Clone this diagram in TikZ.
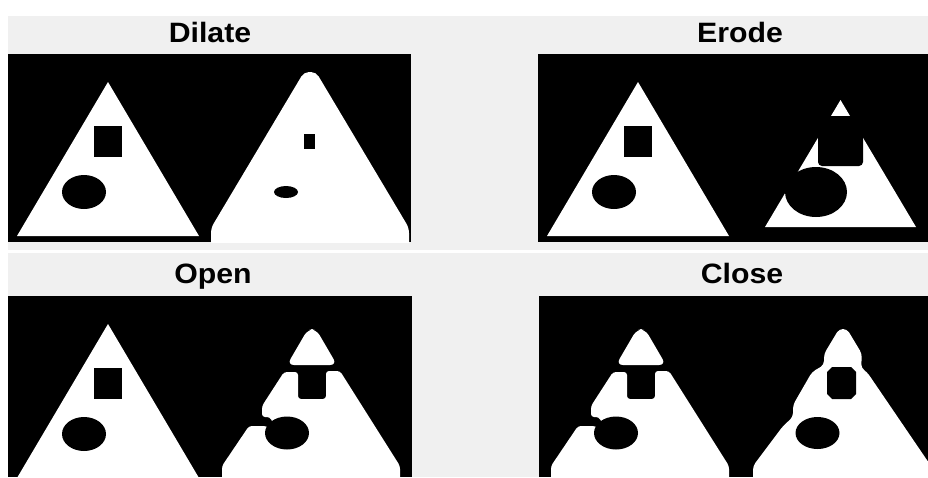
\documentclass[tikz,border=0pt]{standalone}
\usepackage{fontspec}
\setsansfont{Liberation Sans}
\usepackage{tikz}
\definecolor{figgray}{RGB}{240,240,240}

% original triangle with its square and ellipse holes
\newcommand{\origtri}{%
  \fill[blob] (100,28) -- (191,182) -- (9,182) -- cycle;
  \fill[hole] (86,72) rectangle (114,103);
  \fill[hole] (76,138) ellipse [x radius=22pt, y radius=17pt];
}
% opened triangle (cap cut off, channel to the ellipse)
\newcommand{\openblob}{%
  \fill[blob, rounded corners=7pt] (300,33) -- (308,33) -- (329,69) -- (279,69) -- cycle;
  \fill[blob, rounded corners=3pt] (276,76) -- (290,76) -- (290,103) -- (318,103) -- (318,75)
    -- (332,75) -- (392,170) -- (392,195) -- (214,195) -- (214,170) -- (241,130)
    -- (258,130) -- (270,137) -- (262,121) -- (254,121) -- (254,110) -- cycle;
  \fill[hole] (279,137) ellipse [x radius=22pt, y radius=16.5pt];
}
\newcommand{\widetxt}[1]{\scalebox{1.08}[1]{#1}}

\begin{document}
\begin{tikzpicture}[
  x=1pt, y=-1pt,
  panel/.style={fill=figgray},
  blob/.style={fill=white},
  hole/.style={fill=black},
  ttl/.style={anchor=base, inner sep=0pt, font=\sffamily\bfseries\fontsize{28}{28}\selectfont}
]
\useasboundingbox (0,0) rectangle (928,477);
\fill[white] (0,0) rectangle (928,477);
\fill[panel] (8,16) rectangle (928,250);
\fill[panel] (8,253) rectangle (928,477);

\node[ttl] (dilate) at (210,42) {\widetxt{Dilate}};
\node[ttl] (erode) at (740,42) {\widetxt{Erode}};
\node[ttl] (open) at (213,283.5) {\widetxt{Open}};
\node[ttl] (close) at (742,283.5) {\widetxt{Close}};

% Dilate
\begin{scope}[shift={(8,54)}]
  \clip (0,0) rectangle (403,188);
  \fill[hole] (0,0) rectangle (403,188);
  \origtri
  \fill[blob, rounded corners=5pt] (296,18) -- (308,18) -- (401,174) -- (401,195) -- (203,195) -- (203,174) -- cycle;
  \fill[hole] (296,80) rectangle (307,95);
  \fill[hole] (278,138) ellipse [x radius=12pt, y radius=6pt];
\end{scope}

% Erode
\begin{scope}[shift={(538,54)}]
  \clip (0,0) rectangle (390,188);
  \fill[hole] (0,0) rectangle (390,188);
  \origtri
  \fill[blob] (302.5,46) -- (378,173) -- (227,173) -- cycle;
  \fill[hole, rounded corners=4pt] (280,62) rectangle (325,112);
  \fill[hole] (278,138) ellipse [x radius=31pt, y radius=25pt];
\end{scope}

% Open
\begin{scope}[shift={(8,296)}]
  \clip (0,0) rectangle (404,181);
  \fill[hole] (0,0) rectangle (404,181);
  \origtri
  \openblob
\end{scope}

% Close
\begin{scope}[shift={(539,296)}]
  \clip (0,0) rectangle (389,181);
  \fill[hole] (0,0) rectangle (389,181);
  \begin{scope}[xshift=-202pt]
    \openblob
  \end{scope}
  \fill[blob, rounded corners=4pt] (300,33) -- (308,33) -- (323,58) -- (322,72) -- (328,76) -- (392,170)
    -- (392,195) -- (214,195) -- (214,170) -- (244,130) -- (254,121) -- (254,109)
    -- (273,76) -- (285,69) -- (285,58) -- cycle;
  \fill[hole] (293,71) -- (312,71) -- (317,76) -- (317,98) -- (312,103) -- (293,103)
    -- (288,98) -- (288,76) -- cycle;
  \fill[hole] (278.5,137) ellipse [x radius=22pt, y radius=16pt];
\end{scope}
\end{tikzpicture}
\end{document}
